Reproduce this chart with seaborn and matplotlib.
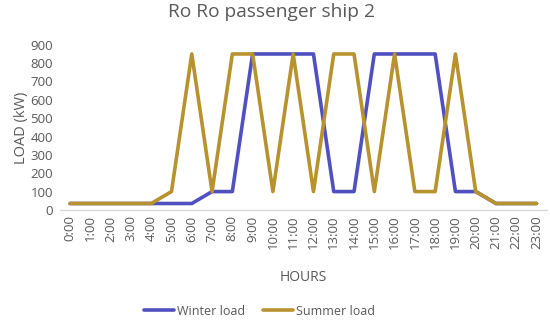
import pandas as pd
import numpy as np
import seaborn as sns
import matplotlib.pyplot as plt

# Hourly load of the ship (kW)
hours = [f"{h}:00" for h in range(24)]
winter_load = [35, 35, 35, 35, 35, 35, 35, 100, 100, 850, 850, 850,
               850, 100, 100, 850, 850, 850, 850, 100, 100, 35, 35, 35]
summer_load = [35, 35, 35, 35, 35, 100, 850, 100, 850, 850, 100, 850,
               100, 850, 850, 100, 850, 100, 100, 850, 100, 35, 35, 35]

df = pd.DataFrame({'Hour': hours, 'Winter load': winter_load, 'Summer load': summer_load})
long_df = df.melt(id_vars='Hour', var_name='Series', value_name='Load')
long_df['x'] = long_df['Hour'].map({h: i for i, h in enumerate(hours)})

sns.set_style('white')
plt.rcParams['font.family'] = ['Open Sans', 'DejaVu Sans']
text_color = '#595959'

fig = plt.figure(figsize=(5.5, 3.2), dpi=100)
ax = fig.add_axes([0.109, 0.344, 0.885, 0.516])

sns.lineplot(data=long_df, x='x', y='Load', hue='Series',
             palette={'Winter load': '#5050C0', 'Summer load': '#B8922E'},
             linewidth=2.6, ax=ax, legend=True)

ax.set_xlim(-0.5, 23.5)
ax.set_ylim(0, 900)
ax.set_xticks(range(24))
ax.set_xticklabels(hours, rotation=90, fontsize=9.5, color=text_color)
ax.set_yticks(range(0, 901, 100))
ax.tick_params(axis='y', labelsize=9.5, labelcolor=text_color, length=0, pad=5)
ax.tick_params(axis='x', length=0, pad=4)

for side in ['top', 'right', 'left']:
    ax.spines[side].set_visible(False)
ax.spines['bottom'].set_color('#d9d9d9')
ax.spines['bottom'].set_linewidth(1)

ax.set_xlabel('HOURS', fontsize=10, color=text_color, labelpad=15)
ax.set_ylabel('LOAD (kW)', fontsize=10.5, color=text_color, labelpad=1)
fig.suptitle('Ro Ro passenger ship 2', fontsize=13.8, color=text_color, x=0.493, y=0.99)

handles, labels = ax.get_legend_handles_labels()
ax.legend(handles, labels, loc='lower center', bbox_to_anchor=(0.41, -0.72),
          ncol=2, frameon=False, fontsize=9, labelcolor=text_color,
          handlelength=2.4, handletextpad=0.2, columnspacing=1.5)

plt.savefig('out.png', dpi=100)
